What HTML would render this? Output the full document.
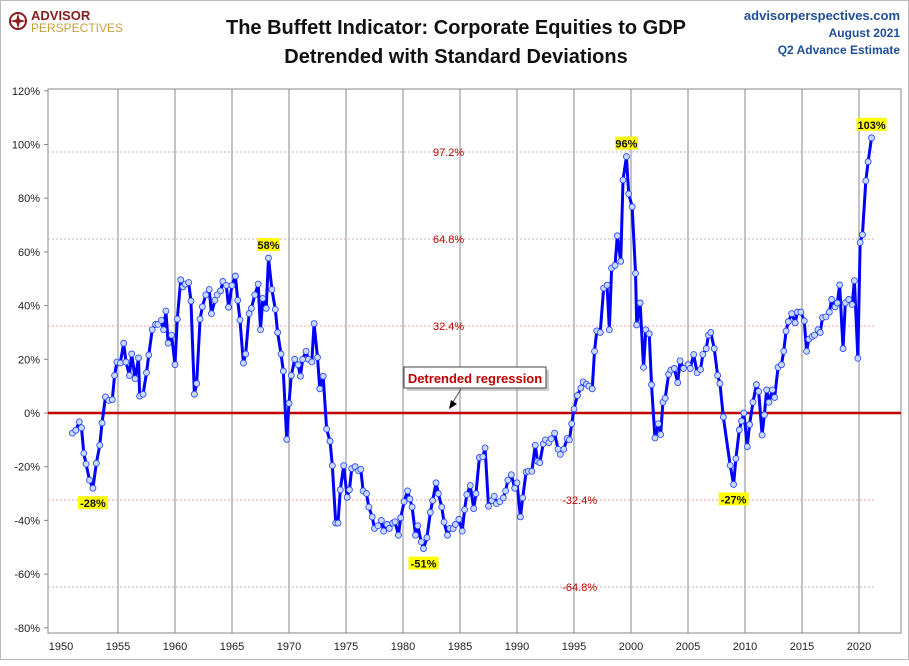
<!DOCTYPE html>
<html><head><meta charset="utf-8"><style>
body{margin:0;background:#fff;width:909px;height:660px;overflow:hidden;font-family:"Liberation Sans",sans-serif}
#wrap{position:relative;width:907px;height:658px;border:1px solid #bbb}
</style></head><body>
<div id="wrap">
<svg id="chart" width="909" height="660" xmlns="http://www.w3.org/2000/svg">
<g>
<circle cx="17" cy="20" r="8" fill="none" stroke="#8b1c1c" stroke-width="2"/>
<path d="M17 12 L19 20 L17 28 L15 20 Z M9 20 L17 18 L25 20 L17 22 Z" fill="#8b1c1c"/>
<text x="30" y="19" font-size="13" font-weight="bold" fill="#8b1c1c">ADVISOR</text>
<text x="30" y="31" font-size="12" fill="#c8a040">PERSPECTIVES</text>
</g>
<text x="455" y="33" text-anchor="middle" font-size="20" font-weight="bold" fill="#111">The Buffett Indicator: Corporate Equities to GDP</text>
<text x="455" y="62" text-anchor="middle" font-size="20" font-weight="bold" fill="#111">Detrended with Standard Deviations</text>
<text x="899" y="19" text-anchor="end" font-size="13" font-weight="bold" fill="#1f4e99">advisorperspectives.com</text>
<text x="899" y="36" text-anchor="end" font-size="12" font-weight="bold" fill="#1f4e99">August 2021</text>
<text x="899" y="53" text-anchor="end" font-size="12" font-weight="bold" fill="#1f4e99">Q2 Advance Estimate</text>
<g id="plot"></g>
</svg>
</div>
<script>
const years=[1951.0,1951.3,1951.6,1951.8,1952.0,1952.2,1952.5,1952.8,1953.1,1953.4,1953.6,1953.9,1954.2,1954.5,1954.7,1954.9,1955.2,1955.5,1955.7,1956.0,1956.2,1956.5,1956.8,1956.9,1957.2,1957.5,1957.7,1958.0,1958.3,1958.5,1958.8,1959.0,1959.2,1959.4,1959.7,1960.0,1960.2,1960.5,1960.7,1960.9,1961.2,1961.4,1961.7,1961.9,1962.2,1962.4,1962.7,1963.0,1963.2,1963.5,1963.7,1964.0,1964.2,1964.5,1964.7,1965.0,1965.3,1965.5,1965.7,1966.0,1966.2,1966.5,1966.7,1967.0,1967.3,1967.5,1967.7,1968.0,1968.2,1968.5,1968.8,1969.0,1969.3,1969.5,1969.8,1970.0,1970.2,1970.5,1970.8,1971.0,1971.2,1971.5,1971.7,1972.0,1972.2,1972.5,1972.7,1973.0,1973.3,1973.6,1973.8,1974.1,1974.3,1974.5,1974.8,1975.1,1975.3,1975.5,1975.8,1976.1,1976.3,1976.5,1976.8,1977.0,1977.3,1977.5,1977.8,1978.1,1978.3,1978.6,1978.8,1979.1,1979.3,1979.6,1979.8,1980.1,1980.4,1980.6,1980.8,1981.1,1981.3,1981.6,1981.8,1982.1,1982.4,1982.6,1982.9,1983.1,1983.4,1983.6,1983.9,1984.1,1984.4,1984.6,1984.9,1985.2,1985.4,1985.6,1985.9,1986.2,1986.4,1986.7,1987.0,1987.2,1987.5,1987.8,1988.0,1988.2,1988.5,1988.8,1989.0,1989.2,1989.5,1989.8,1990.0,1990.3,1990.5,1990.8,1991.0,1991.3,1991.6,1991.8,1992.0,1992.3,1992.5,1992.8,1993.0,1993.3,1993.6,1993.8,1994.1,1994.4,1994.6,1994.8,1995.0,1995.3,1995.6,1995.8,1996.1,1996.3,1996.6,1996.8,1997.0,1997.3,1997.6,1997.9,1998.1,1998.3,1998.6,1998.8,1999.1,1999.3,1999.6,1999.8,2000.1,2000.4,2000.5,2000.8,2001.1,2001.3,2001.6,2001.8,2002.1,2002.4,2002.6,2002.8,2003.0,2003.3,2003.5,2003.8,2004.1,2004.3,2004.6,2005.0,2005.2,2005.5,2005.8,2006.1,2006.3,2006.6,2006.8,2007.0,2007.3,2007.6,2007.8,2008.1,2008.7,2009.0,2009.2,2009.5,2009.7,2009.9,2010.2,2010.4,2010.7,2011.0,2011.2,2011.5,2011.7,2011.9,2012.1,2012.4,2012.6,2012.9,2013.2,2013.4,2013.6,2013.8,2014.1,2014.4,2014.6,2014.9,2015.2,2015.4,2015.6,2015.9,2016.1,2016.4,2016.6,2016.8,2017.1,2017.4,2017.6,2017.9,2018.1,2018.3,2018.6,2018.8,2019.1,2019.4,2019.6,2019.9,2020.1,2020.3,2020.6,2020.8,2021.1];
const values=[-7.5,-6.4,-3.3,-5.5,-15,-19,-25,-28,-18.7,-12,-3.7,6,4.7,5,14,19,18.6,26,19,14,22,12.8,20.5,6.3,7,15,21.6,31,33,33,34.5,31,38,26,29,18,35,49.6,47,48,48.6,41.7,7,11,35,39.6,44,46,37,42,44,45.5,49,47.5,39.4,47.5,51,42,34.6,18.6,22,37,39,44,48,31,42.7,39,57.7,46,38.6,30,22,15.6,-9.8,3.6,14,20,18,13.7,20,23,20,19,33.3,20.7,9,13.7,-6,-10.5,-19.6,-41,-41,-28.6,-19.6,-31.4,-28.6,-20.7,-20,-21.5,-21,-29,-30,-35,-38.7,-43,-42,-40,-44,-41.5,-43,-41,-40.5,-45.5,-39,-33,-29,-32,-35,-45.5,-42,-48,-50.5,-46.4,-37,-32.6,-26,-30,-35,-40.6,-45.5,-43,-43,-41.5,-39.6,-44,-36,-30.4,-27,-35.6,-30,-16.6,-16.3,-13,-34.7,-32.6,-31,-33.8,-33,-31.6,-29,-25,-23,-28,-26,-38.7,-31.6,-22,-21.7,-21.7,-12,-18,-18.5,-11.5,-10,-11,-9.6,-7.5,-13.5,-15.4,-13.5,-9.5,-10,-4,1.5,6.5,9.3,11.6,10.7,10,9,23,30.6,30,46.5,47.6,31,54,55,66,56.5,86.8,95.5,81.6,76.8,52,32.8,41,17,31,29.5,10.5,-9.3,-4,-8,4,5.5,14.4,16,16.6,11.3,19.4,16.6,18,16.6,21.8,15,16.2,21.8,24,29,30,24,14,11,-1.5,-19.5,-26.6,-17,-6.3,-3,0,-12.5,-4.3,4,10.6,8,-8.2,-0.7,8.6,4,8.6,5.8,17,18,23,30.5,34,37,33.6,37.6,37.6,34.3,23,27.5,28.5,29,31,30,35.5,35.8,37.6,42.3,39.5,41,47.7,24,41,42.3,40.4,49.3,20.4,63.5,66.4,86.5,93.6,102.5];
const yTicks=[120,100,80,60,40,20,0,-20,-40,-60,-80];
const xTicks=[1950,1955,1960,1965,1970,1975,1980,1985,1990,1995,2000,2005,2010,2015,2020];
const sigmaLevels=[97.2,64.8,32.4,-32.4,-64.8];
const sigmaLabelX=[1984,1984,1984,1995.5,1995.5];
const callouts=[{y:1952.8,v:-28,t:'-28%',dy:18},{y:1968.2,v:57.7,t:'58%',dy:-10},{y:1981.8,v:-50.5,t:'-51%',dy:18},{y:1999.6,v:95.5,t:'96%',dy:-10},{y:2009.0,v:-26.6,t:'-27%',dy:18},{y:2021.1,v:102.5,t:'103%',dy:-10}];

const L=47,R=900,T=88,B=632;
const X=yr=>60+(yr-1950)*11.4;
const Y=v=>412-v*2.685;
const NS='http://www.w3.org/2000/svg';
const g=document.getElementById('plot');
function mk(tag,attrs,parent){const e=document.createElementNS(NS,tag);for(const k in attrs)e.setAttribute(k,attrs[k]);(parent||g).appendChild(e);return e;}

const frame=mk('rect',{x:L,y:T,width:R-L,height:B-T,fill:'#fff',stroke:'#888'});


xTicks.forEach(yr=>{
  const x=X(yr);
  if(yr>1950){const l=mk('line',{x1:x,x2:x,y1:T,y2:B,stroke:'#888','stroke-width':1});
  
  }
  const t=mk('text',{x:x,y:649,'text-anchor':'middle','font-size':11,fill:'#222'});t.textContent=yr;
  
  
});
yTicks.forEach(v=>{
  const y=Y(v);
  mk('line',{x1:L-4,x2:L,y1:y,y2:y,stroke:'#888'});
  const t=mk('text',{x:L-8,y:y+4,'text-anchor':'end','font-size':11,fill:'#222'});t.textContent=v+'%';
  
  
});
sigmaLevels.forEach((v,i)=>{
  const y=Y(v);
  const l=mk('line',{x1:L,x2:R-25,y1:y,y2:y,stroke:Math.abs(v)<40?'#f0a0a0':'#c8b0b0','stroke-width':1,'stroke-dasharray':'2,2'});
  
  
  const t=mk('text',{x:X(sigmaLabelX[i]),y:y+4,'text-anchor':'middle','font-size':11,fill:'#c00000'});t.textContent=v+'%';
  
  
});
const zl=mk('line',{x1:L,x2:R,y1:Y(0),y2:Y(0),stroke:'#c00000','stroke-width':2.5});



const n=Math.min(years.length,values.length);
const pts=years.slice(0,n).map((yr,i)=>X(yr)+','+Y(values[i])).join(' ');
const line=mk('polyline',{points:pts,fill:'none',stroke:'#0000ff','stroke-width':3,'stroke-linejoin':'round'});


years.slice(0,n).forEach((yr,i)=>{
  const c=mk('circle',{cx:X(yr),cy:Y(values[i]),r:3,fill:'#c8d8ff',stroke:'#2040ff','stroke-width':0.8});
  
  
});
callouts.forEach(c=>{
  const x=X(c.y),y=Y(c.v)+c.dy;
  const w=c.t.length*7+2;
  mk('rect',{x:x-w/2,y:y-10,width:w,height:13,fill:'#ffff00'});
  const t=mk('text',{x:x,y:y+1,'text-anchor':'middle','font-size':11,'font-weight':'bold',fill:'#111'});t.textContent=c.t;
  
  
});
mk('rect',{x:406,y:369,width:142,height:21,fill:'#999',opacity:0.5});
const box=mk('rect',{x:403,y:366,width:142,height:21,fill:'#fff',stroke:'#444'});


const bt=mk('text',{x:474,y:382,'text-anchor':'middle','font-size':13,'font-weight':'bold',fill:'#c00000'});bt.textContent='Detrended regression';


mk('line',{x1:460,y1:388,x2:452,y2:401,stroke:'#555'});
mk('path',{d:'M448 408 L450 399 L456 403 Z',fill:'#000'});
</script>
</body></html>
